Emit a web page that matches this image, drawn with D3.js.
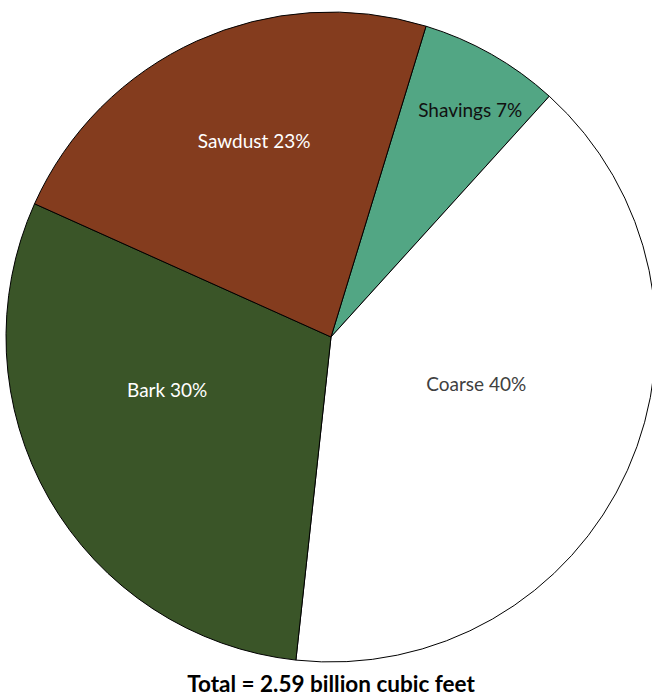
<!DOCTYPE html>
<html>
<head>
<meta charset="utf-8">
<script src="https://cdn.jsdelivr.net/npm/d3@7"></script>
<style>
  html, body { margin: 0; padding: 0; background: #fff; }
  svg { display: block; }
</style>
</head>
<body>
<svg id="chart" width="652" height="696"></svg>
<script>
// Wood residue composition
const categories = ["Shavings", "Coarse", "Bark", "Sawdust"];
const shares = [7, 40, 30, 23];
const sliceColors = ["#52A684", "#FFFFFF", "#3A5528", "#843C1E"];
const labelColors = ["#111111", "#404040", "#FFFFFF", "#FFFFFF"];
const totalText = "Total = 2.59 billion cubic feet";

const svg = d3.select("#chart");
const cx = 331, cy = 337, radius = 325;

const data = categories.map((c, i) => ({ name: c, value: shares[i], fill: sliceColors[i], text: labelColors[i] }));

const startDeg = 17;
const pie = d3.pie()
  .value(d => d.value)
  .sort(null)
  .startAngle(startDeg * Math.PI / 180)
  .endAngle((startDeg + 360) * Math.PI / 180);

const arc = d3.arc().innerRadius(0).outerRadius(radius);

const g = svg.append("g").attr("transform", `translate(${cx},${cy})`);
const arcs = pie(data);

g.selectAll("path.slice")
  .data(arcs)
  .join("path")
  .attr("class", "slice")
  .attr("d", arc)
  .attr("fill", d => d.data.fill)
  .attr("stroke", "#000")
  .attr("stroke-width", 1)
  .attr("stroke-linejoin", "round");

// best-fit label placement (angle in degrees clockwise from 12 o'clock, fraction of radius)
const labelPlacement = {
  Shavings: [31.5, 0.82],
  Coarse: [108, 0.47],
  Bark: [252, 0.53],
  Sawdust: [338.6, 0.648]
};

g.selectAll("text.lbl")
  .data(arcs)
  .join("text")
  .attr("class", "lbl")
  .attr("transform", d => {
    const [deg, f] = labelPlacement[d.data.name];
    const a = deg * Math.PI / 180;
    return `translate(${Math.sin(a) * radius * f},${-Math.cos(a) * radius * f})`;
  })
  .attr("text-anchor", "middle")
  .attr("dy", "0.37em")
  .attr("font-family", "Lato, 'Open Sans', sans-serif")
  .attr("font-size", 19)
  .attr("fill", d => d.data.text)
  .text(d => `${d.data.name} ${d.data.value}%`);

svg.append("text")
  .attr("x", 331)
  .attr("y", 692)
  .attr("text-anchor", "middle")
  .attr("font-family", "Lato, 'Open Sans', sans-serif")
  .attr("font-weight", "bold")
  .attr("font-size", 22.5)
  .attr("fill", "#000")
  .text(totalText);
</script>
</body>
</html>
